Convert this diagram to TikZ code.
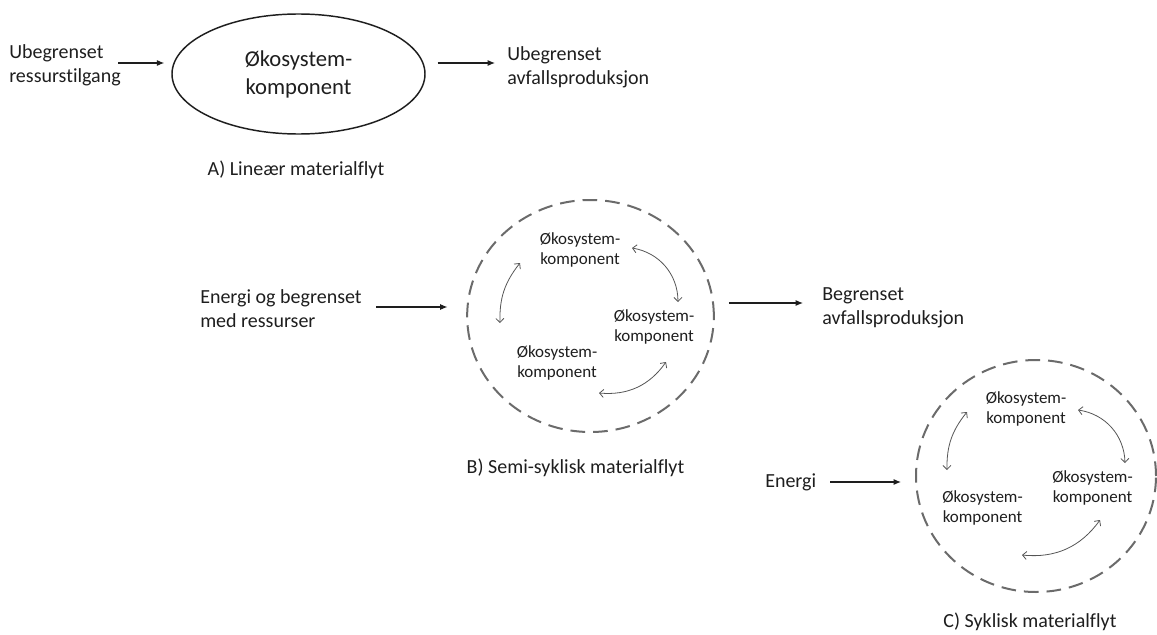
\documentclass[tikz,border=0pt]{standalone}
\usepackage{fontspec}
\setmainfont{Carlito}[Ligatures=NoCommon]
\usepackage{tikz}
\usetikzlibrary{arrows.meta,positioning,calc,shapes.geometric}
\definecolor{mfink}{HTML}{1E1E1E}
\definecolor{mfring}{HTML}{6B6B6B}
\definecolor{mfcyc}{HTML}{555555}

\begin{document}
\begin{tikzpicture}[x=0.75pt,y=-0.75pt,
    lbl/.style={font=\fontsize{15}{18}\selectfont,align=left,inner sep=0pt,text=mfink},
    flowcap/.style={font=\fontsize{15}{18}\selectfont,inner sep=0pt,text=mfink},
    comp/.style={font=\fontsize{12.75}{15}\selectfont,align=center,inner sep=0pt,text=mfink},
    ring/.style={ellipse,draw=mfring,line width=1.5pt,dash pattern=on 11pt off 6pt,minimum height=174pt,inner sep=0pt},
    flow/.style={draw=mfink,line width=0.8pt,-{Latex[length=5.5pt,width=4.5pt]}},
    cyc/.style={draw=mfcyc,line width=0.6pt,{Straight Barb[length=3pt,width=6pt]}-{Straight Barb[length=3pt,width=6pt]}}]
  \useasboundingbox (0,0) rectangle (1157,635);

  % A) linear
  \node[ellipse,draw=mfink,line width=1.1pt,minimum width=189.75pt,minimum height=90pt,inner sep=0pt,
        font=\fontsize{17}{21}\selectfont,align=center,text=mfink] (ecoA) at (298.5,74) {Økosystem-\\komponent};
  \node[lbl,anchor=west] (inA) at (9,65) {Ubegrenset\\ressurstilgang};
  \node[lbl,anchor=west] (outA) at (507,67.5) {Ubegrenset\\avfallsproduksjon};
  \node[flowcap] (capA) at (296,170) {A) Lineær materialflyt};
  \coordinate (aInTail) at (118,63);
  \coordinate (aOutTip) at (495,63);
  \draw[flow,shorten >=5.25pt] (aInTail) -- (aInTail -| ecoA.west);
  \draw[flow,shorten <=9pt] (ecoA.east |- aOutTip) -- (aOutTip);

  % B) semi-cyclic
  \node[ring,minimum width=185pt] (ringB) at (590.5,316) {};
  \node[comp] (bTop) at (580,250) {Økosystem-\\komponent};
  \node[comp] (bRight) at (654,327) {Økosystem-\\komponent};
  \node[comp] (bLeft) at (557,363) {Økosystem-\\komponent};
  \draw[cyc] ($(bTop)+(52,-2)$) to[bend left=40] ($(bRight)+(24,-25)$);
  \draw[cyc] ($(bRight)+(12,35)$) to[bend left=30] ($(bLeft)+(42,30)$);
  \draw[cyc] ($(bLeft)+(-57,-40)$) to[bend left=20] ($(bTop)+(-60,13)$);
  \node[lbl,anchor=west] (inB) at (200,309) {Energi og begrenset\\med ressurser};
  \node[lbl,anchor=west] (outB) at (822,307.5) {Begrenset\\avfallsproduksjon};
  \node[flowcap] (capB) at (575.5,468) {B) Semi-syklisk materialflyt};
  \coordinate (bInTail) at (376,307);
  \coordinate (bOutTip) at (803,303);
  \draw[flow,shorten >=14pt] (bInTail) -- (bInTail -| ringB.west);
  \draw[flow,shorten <=10.5pt] (ringB.east |- bOutTip) -- (bOutTip);

  % C) cyclic
  \node[ring,minimum width=180pt] (ringC) at (1036,476) {};
  \node[comp] (cTop) at (1026,408.5) {Økosystem-\\komponent};
  \node[comp] (cRight) at (1092.5,488) {Økosystem-\\komponent};
  \node[comp] (cLeft) at (982.5,508) {Økosystem-\\komponent};
  \draw[cyc] ($(cTop)+(52,1.5)$) to[bend left=40] ($(cRight)+(32.5,-25)$);
  \draw[cyc] ($(cRight)+(7.5,32)$) to[bend left=30] ($(cLeft)+(39.5,47)$);
  \draw[cyc] ($(cLeft)+(-35.5,-38)$) to[bend left=20] ($(cTop)+(-59,3.5)$);
  \node[lbl,anchor=west] (inC) at (765,482) {Energi};
  \node[flowcap] (capC) at (1030,622) {C) Syklisk materialflyt};
  \coordinate (cInTail) at (830,482);
  \draw[flow,shorten >=10.5pt] (cInTail) -- (cInTail -| ringC.west);
\end{tikzpicture}
\end{document}
